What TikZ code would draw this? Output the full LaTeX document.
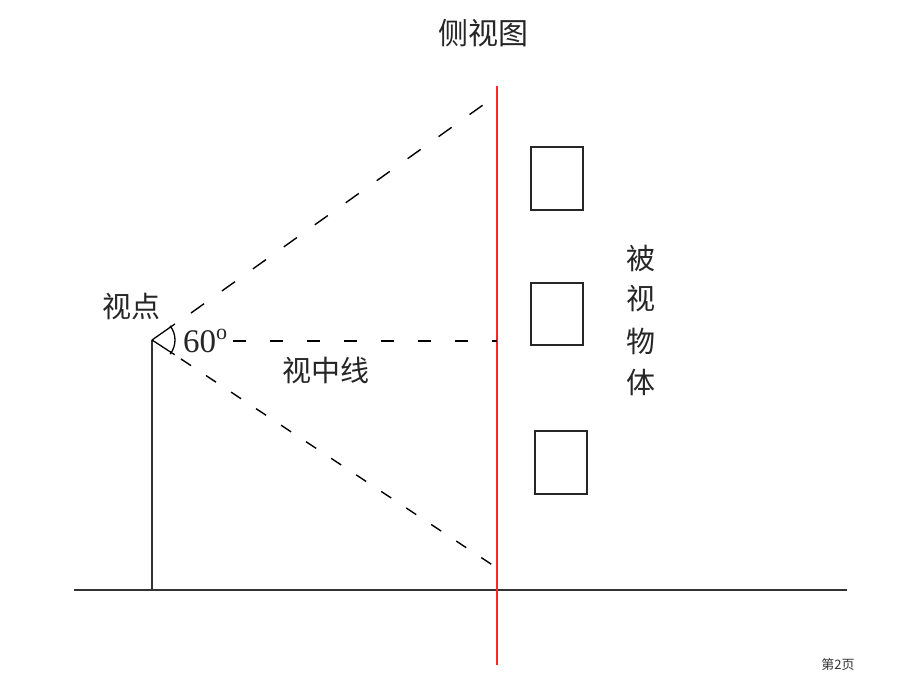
\documentclass[tikz,border=0pt]{standalone}
\usepackage{fontspec}
\setmainfont{Liberation Serif}
\newfontfamily\cjk{Noto Sans CJK SC}
\begin{document}
\begin{tikzpicture}[x=1pt,y=-1pt,
  cjklabel/.style={font=\cjk\fontsize{29}{32}\selectfont, text=black!85, inner sep=0pt},
  objbox/.style={draw=black!85, line width=1.8pt},
  sightline/.style={draw=black, line width=1.4pt, dash pattern=on 16pt off 22pt},
  midline/.style={draw=black, line width=1.3pt, dash pattern=on 13pt off 24pt},
  solidline/.style={draw=black!80, line width=1.5pt}]
\useasboundingbox[fill=white] (0,0) rectangle (920,690);
% title
\node[cjklabel, font=\cjk\fontsize{30}{32}\selectfont] (title) at (483,33) {侧视图};
% ground and pole
\coordinate (g1) at (74,590);
\coordinate (g2) at (847,590);
\draw[solidline] (g1) -- (g2);
\coordinate (eye) at (152,340);
\coordinate (foot) at (152,590);
\draw[solidline] (eye) -- (foot);
% screen (red line)
\coordinate (rtop) at (497,86);
\coordinate (rbot) at (497,665);
\draw[red!85!white, line width=1.4pt] (rtop) -- (rbot);
% sight lines
\coordinate (up) at (497,95);
\coordinate (dn) at (497,568);
\coordinate (upS) at (191,313);
\coordinate (dnS) at (181,359);
\draw[sightline] (upS) -- (up);
\draw[sightline, dash pattern=on 12pt off 18pt] (dnS) -- (dn);
\coordinate (midS) at (233,341);
\coordinate (midE) at (497,341);
\draw[midline] (midS) -- (midE);
% angle arc
\draw[black, line width=1.3pt] ([shift={(-38:23)}]eye) arc[start angle=-38, end angle=38, radius=23];
\draw[black, line width=1.3pt] (eye) -- ([shift={(-35:28)}]eye);
\draw[black, line width=1.3pt] (eye) -- ([shift={(33:27)}]eye);
% labels
\node[cjklabel] (vp) at (131,306) {视点};
\node[inner sep=0pt, font=\fontsize{33}{34}\selectfont, text=black!85] (ang) at (205,341) {60\raisebox{0.42em}{\fontsize{22}{22}\selectfont o}};
\node[cjklabel] (mid) at (326,370) {视中线};
% boxes
\node[objbox, minimum width=52pt, minimum height=63pt, inner sep=0pt] (b1) at (557,178.5) {};
\node[objbox, minimum width=52pt, minimum height=62pt, inner sep=0pt] (b2) at (557,314) {};
\node[objbox, minimum width=52pt, minimum height=63pt, inner sep=0pt] (b3) at (561,462.5) {};
% vertical text
\node[cjklabel] (t1) at (641,258) {被};
\node[cjklabel] (t2) at (641,299) {视};
\node[cjklabel] (t3) at (641,341) {物};
\node[cjklabel] (t4) at (641,382) {体};
% page number
\node[font=\cjk\fontsize{13}{14}\selectfont, text=black!80, inner sep=0pt] (pg) at (838,665) {第2页};
\end{tikzpicture}
\end{document}
